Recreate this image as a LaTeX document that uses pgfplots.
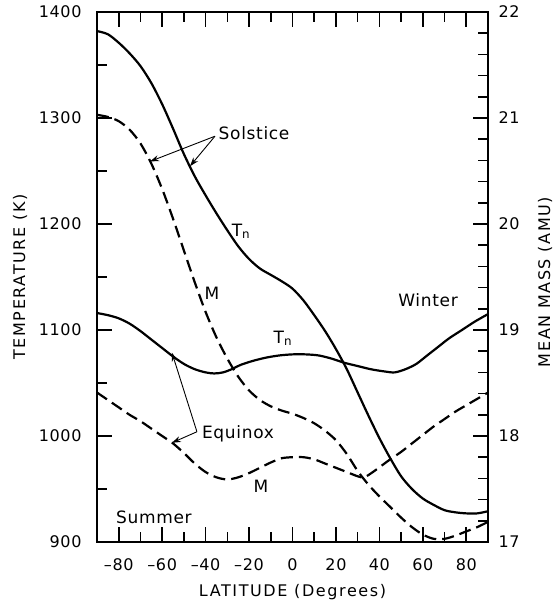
\documentclass[border=0pt]{standalone}
\usepackage{fontspec}
\setmainfont{DejaVu Sans}[LetterSpace=4]
\newfontfamily\labelfont{DejaVu Sans}[LetterSpace=10]
\usepackage{pgfplots}
\usepackage{pgfplotstable}
\pgfplotsset{compat=1.18}
\usetikzlibrary{arrows.meta}

\pgfplotstableread{
lat T
-90 1382
-85 1379
-80 1371
-75 1361
-70 1349
-65 1333
-60 1313
-55 1290
-50 1266
-45 1245
-40 1227
-35 1210
-30 1194
-25 1179
-20 1167
-15 1158
-10 1152
-5 1146
0 1139
5 1128
10 1114
15 1099
20 1082
25 1063
30 1041
35 1019
40 998
45 979
50 962
55 950
60 941
65 935
70 930
75 928
80 927
85 927
90 929
}\solTn

\pgfplotstableread{
lat T
-90 1116
-85 1114
-80 1111
-75 1106
-70 1099
-65 1091
-60 1083
-55 1075
-50 1068
-45 1063
-40 1060
-36 1059
-32 1060
-28 1063
-24 1067
-18 1071
-12 1074
-6 1076
0 1077
6 1077
12 1076
18 1073
24 1069
30 1066
36 1063
42 1061
47 1060
52 1063
57 1068
62 1076
67 1084
72 1092
78 1100
84 1108
90 1115
}\equTn

\pgfplotstableread{
lat M
-90 21.03
-85 21.01
-80 20.97
-75 20.89
-70 20.76
-65 20.57
-60 20.33
-55 20.05
-50 19.75
-45 19.45
-40 19.17
-35 18.93
-30 18.73
-25 18.56
-20 18.43
-15 18.34
-10 18.28
-5 18.24
0 18.21
5 18.17
10 18.12
15 18.05
20 17.96
25 17.83
30 17.67
35 17.54
40 17.43
45 17.33
50 17.23
55 17.14
60 17.07
65 17.03
70 17.03
75 17.06
80 17.10
85 17.14
90 17.19
}\solM

\pgfplotstableread{
lat M
-90 18.41
-85 18.34
-80 18.27
-75 18.20
-70 18.14
-65 18.07
-60 18.00
-55 17.93
-50 17.84
-45 17.74
-40 17.66
-35 17.61
-30 17.59
-25 17.61
-20 17.65
-15 17.70
-10 17.75
-5 17.79
0 17.80
5 17.80
10 17.78
15 17.74
20 17.70
25 17.66
30 17.62
33 17.61
37 17.66
41 17.72
45 17.78
50 17.85
55 17.93
60 18.01
65 18.09
70 18.16
75 18.23
80 18.29
85 18.35
90 18.41
}\equM

\tikzset{ann/.style={inner sep=0, font=\fontsize{17}{20}\selectfont}}

\begin{document}
\fontsize{16}{19}\selectfont
\begin{tikzpicture}
\pgfplotsset{
  common/.style={
    width=391pt, height=530pt, scale only axis,
    xmin=-90, xmax=90,
    tick align=inside,
    major tick length=15pt, minor tick length=10pt,
    every tick/.style={black, line width=1.6pt},
    axis line style={line width=1.8pt},
    /pgf/number format/assume math mode=true,
    /pgf/number format/1000 sep={},
  },
  curve/.style={black, line width=2.2pt, smooth, tension=0.5},
  dcurve/.style={curve, dash pattern=on 12pt off 6pt},
}
\begin{axis}[common, clip=false,
  ymin=900, ymax=1400,
  ytick={900,1000,...,1400},
  minor ytick={950,1050,...,1350},
  ytick pos=left,
  xtick={-80,-60,...,80},
  xticklabels={–80,–60,–40,–20,0,20,40,60,80},
  minor xtick={-70,-50,...,70},
  xticklabel style={yshift=-11pt},
  yticklabel style={xshift=-10pt},
]
\addplot[curve] table[x=lat,y=T] {\solTn};
\addplot[curve] table[x=lat,y=T] {\equTn};
\coordinate (LL) at (rel axis cs:0,0);
\coordinate (UR) at (rel axis cs:1,1);
% annotations
\node[ann] at (axis cs:-17.7,1285.6) {Solstice};
\node[ann] at (axis cs:-25.1,1002) {Equinox};
\node[ann] at (axis cs:-63.8,923.6) {Summer};
\node[ann] at (axis cs:62.4,1128) {Winter};
\node[ann] at (axis cs:-23.7,1193) {T\textsubscript{n}};
\node[ann] at (axis cs:-4.4,1092) {T\textsubscript{n}};
\node[ann] at (axis cs:-37.1,1134.4) {M};
\node[ann] at (axis cs:-14.5,953) {M};
\draw[line width=0.9pt, -{Stealth[length=9pt,width=6pt]}] (axis cs:-35.7,1282.8) -- (axis cs:-65.6,1259);
\draw[line width=0.9pt, -{Stealth[length=9pt,width=6pt]}] (axis cs:-35.7,1282.8) -- (axis cs:-47.2,1254.5);
\draw[line width=0.9pt, -{Stealth[length=9pt,width=6pt]}] (axis cs:-44,1004) -- (axis cs:-55.5,1078.6);
\draw[line width=0.9pt, -{Stealth[length=9pt,width=6pt]}] (axis cs:-44,1004) -- (axis cs:-55.5,993.6);
\path (rel axis cs:0,0.5) ++(-77pt,0pt) node[rotate=90,font=\labelfont] {TEMPERATURE (K)};
\path (rel axis cs:0.5,0) ++(0pt,-50pt) node[font=\labelfont] {LATITUDE (Degrees)};
\path (rel axis cs:1,0.5) ++(57pt,-5pt) node[rotate=90,font=\labelfont] {MEAN MASS (AMU)};
\end{axis}
\begin{axis}[common,
  ymin=17, ymax=22,
  axis y line*=right,
  axis x line=none,
  ytick={17,...,22},
  minor y tick num=4,
  yticklabel style={xshift=5pt},
]
\addplot[dcurve] table[x=lat,y=M] {\solM};
\addplot[dcurve] table[x=lat,y=M] {\equM};
\end{axis}
\path ([shift={(-97pt,-64pt)}]LL) rectangle ([shift={(68pt,12pt)}]UR);
\end{tikzpicture}
\end{document}
